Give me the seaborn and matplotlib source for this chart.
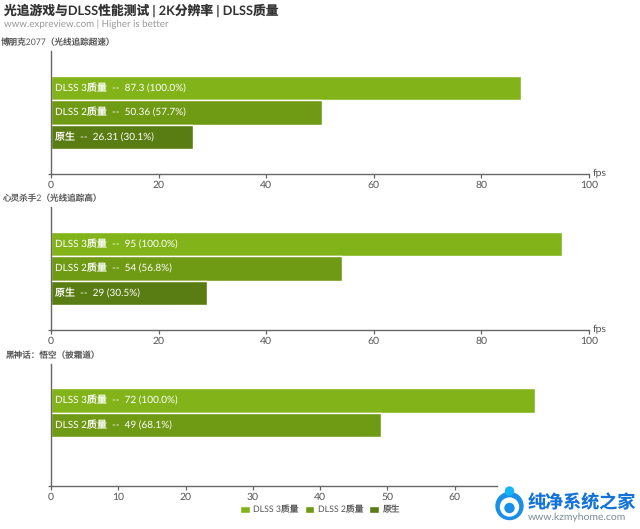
import matplotlib
matplotlib.use("Agg")
import matplotlib.pyplot as plt
import matplotlib.patheffects as pe
from matplotlib.patches import Patch, Circle
import pandas as pd
import seaborn as sns

categories = ["DLSS 3质量", "DLSS 2质量", "原生"]
colors = ["#82b41a", "#6f9a14", "#5a7d13"]

games = ["博朋克2077（光线追踪超速）", "心灵杀手2（光线追踪高）", "黑神话：悟空（披霜道）"]
fps_cyberpunk = [87.3, 50.36, 26.31]
fps_alanwake = [95, 54, 29]
fps_wukong = [72, 49, None]
pct_cyberpunk = [100.0, 57.7, 30.1]
pct_alanwake = [100.0, 56.8, 30.5]
pct_wukong = [100.0, 68.1, None]
ticks_100 = [0, 20, 40, 60, 80, 100]
ticks_wukong = [0, 10, 20, 30, 40, 50, 60]

sns.set_theme(style="white")
plt.rcParams["font.family"] = ["Lato", "Noto Sans CJK SC", "DejaVu Sans"]
plt.rcParams["text.hinting"] = "none"

W, H = 640, 529
fig = plt.figure(figsize=(6.4, 5.29), dpi=100)


def fx(px):
    return px / W


def fy(px):
    return 1 - px / H


def panel(top, bottom, title, title_x, values, pcts, ticks, xmax):
    ax = fig.add_axes([fx(51), fy(bottom), fx(589) - fx(51), (bottom - top) / H])
    df = pd.DataFrame({"cat": categories, "fps": values})
    sns.barplot(data=df, y="cat", x="fps", hue="cat", order=categories, hue_order=categories,
                palette=colors, width=0.995, dodge=False, legend=False, saturation=1, ax=ax)
    for bar in ax.patches:
        bar.set_path_effects([pe.SimplePatchShadow(offset=(0.6, -0.8), shadow_rgbFace="#888888", alpha=0.3),
                              pe.Normal()])
    for i, (cat, val, pct) in enumerate(zip(categories, values, pcts)):
        if val is None:
            continue
        ax.annotate(f"{cat}  --  {val} ({pct:.1f}%)", xy=(0, i), xytext=(3, 0),
                    textcoords="offset points", color="white", fontsize=7.2, va="center", ha="left")
    ax.set_xlim(0, xmax)
    ax.set_ylim(3.5, -1.5)
    ax.set_xlabel("")
    ax.set_ylabel("")
    ax.set_xticks(ticks)
    ax.set_yticks([3.5])
    ax.set_yticklabels([""])
    ax.tick_params(axis="x", length=3, width=0.9, color="#666666", labelcolor="#555555", labelsize=7.5, pad=1.5, bottom=True)
    ax.tick_params(axis="y", length=2, width=0.9, color="#666666", left=True)
    for side in ["top", "right"]:
        ax.spines[side].set_visible(False)
    for side in ["left", "bottom"]:
        ax.spines[side].set_color("#666666")
        ax.spines[side].set_linewidth(1.0)
    fig.text(fx(title_x), fy(top - 9), title, fontsize=6.2, color="#555555", va="center", ha="left")
    return ax


ax1 = panel(51, 174, games[0], 1, fps_cyberpunk, pct_cyberpunk, ticks_100, 100)
ax2 = panel(207, 330, games[1], 3, fps_alanwake, pct_alanwake, ticks_100, 100)
ax3 = panel(364, 486, games[2], 6, fps_wukong, pct_wukong, ticks_wukong, 80)
ax3.spines["bottom"].set_bounds(0, 66.3)

fig.text(fx(593), fy(172), "fps", fontsize=7.5, color="#555555", va="center", ha="left")
fig.text(fx(593), fy(328), "fps", fontsize=7.5, color="#555555", va="center", ha="left")

fig.text(fx(4), fy(10), "光追游戏与DLSS性能测试 | 2K分辨率 | DLSS质量", fontsize=9.2, fontweight="bold",
         color="#333333", va="center", ha="left")
fig.text(fx(4), fy(24), "www.expreview.com | Higher is better", fontsize=7, color="#999999", va="center", ha="left")

handles = [Patch(facecolor=c, label=l) for c, l in zip(colors, categories)]
fig.legend(handles=handles, loc="center", bbox_to_anchor=(fx(320), fy(510)), ncol=3, frameon=False,
           fontsize=6.3, labelcolor="#555555", handlelength=1.1, handleheight=0.9, handletextpad=0.4,
           columnspacing=0.7, borderpad=0)

# watermark in the corner
logo = fig.add_axes([fx(490), fy(529), fx(540) - fx(490), (529 - 483) / H])
logo.set_xlim(490, 540)
logo.set_ylim(529, 483)
logo.set_aspect("equal")
logo.axis("off")
logo.add_patch(Circle((509.5, 506), 13.5, color="#1a8fe8"))
logo.add_patch(Circle((509.5, 507), 9, color="white"))
logo.add_patch(Circle((509.5, 508), 4.5, color="#1a8fe8"))
logo.add_patch(Circle((509.5, 491), 4, color="#14b4f5"))
fig.text(fx(528), fy(503), "纯净系统之家", fontsize=13, fontweight="bold", color="#1473d6", va="center", ha="left")
fig.text(fx(528), fy(517), "www.kzmyhome.com", fontsize=7.5, color="#7a8a99", va="center", ha="left")

fig.savefig("out.png", dpi=100)
